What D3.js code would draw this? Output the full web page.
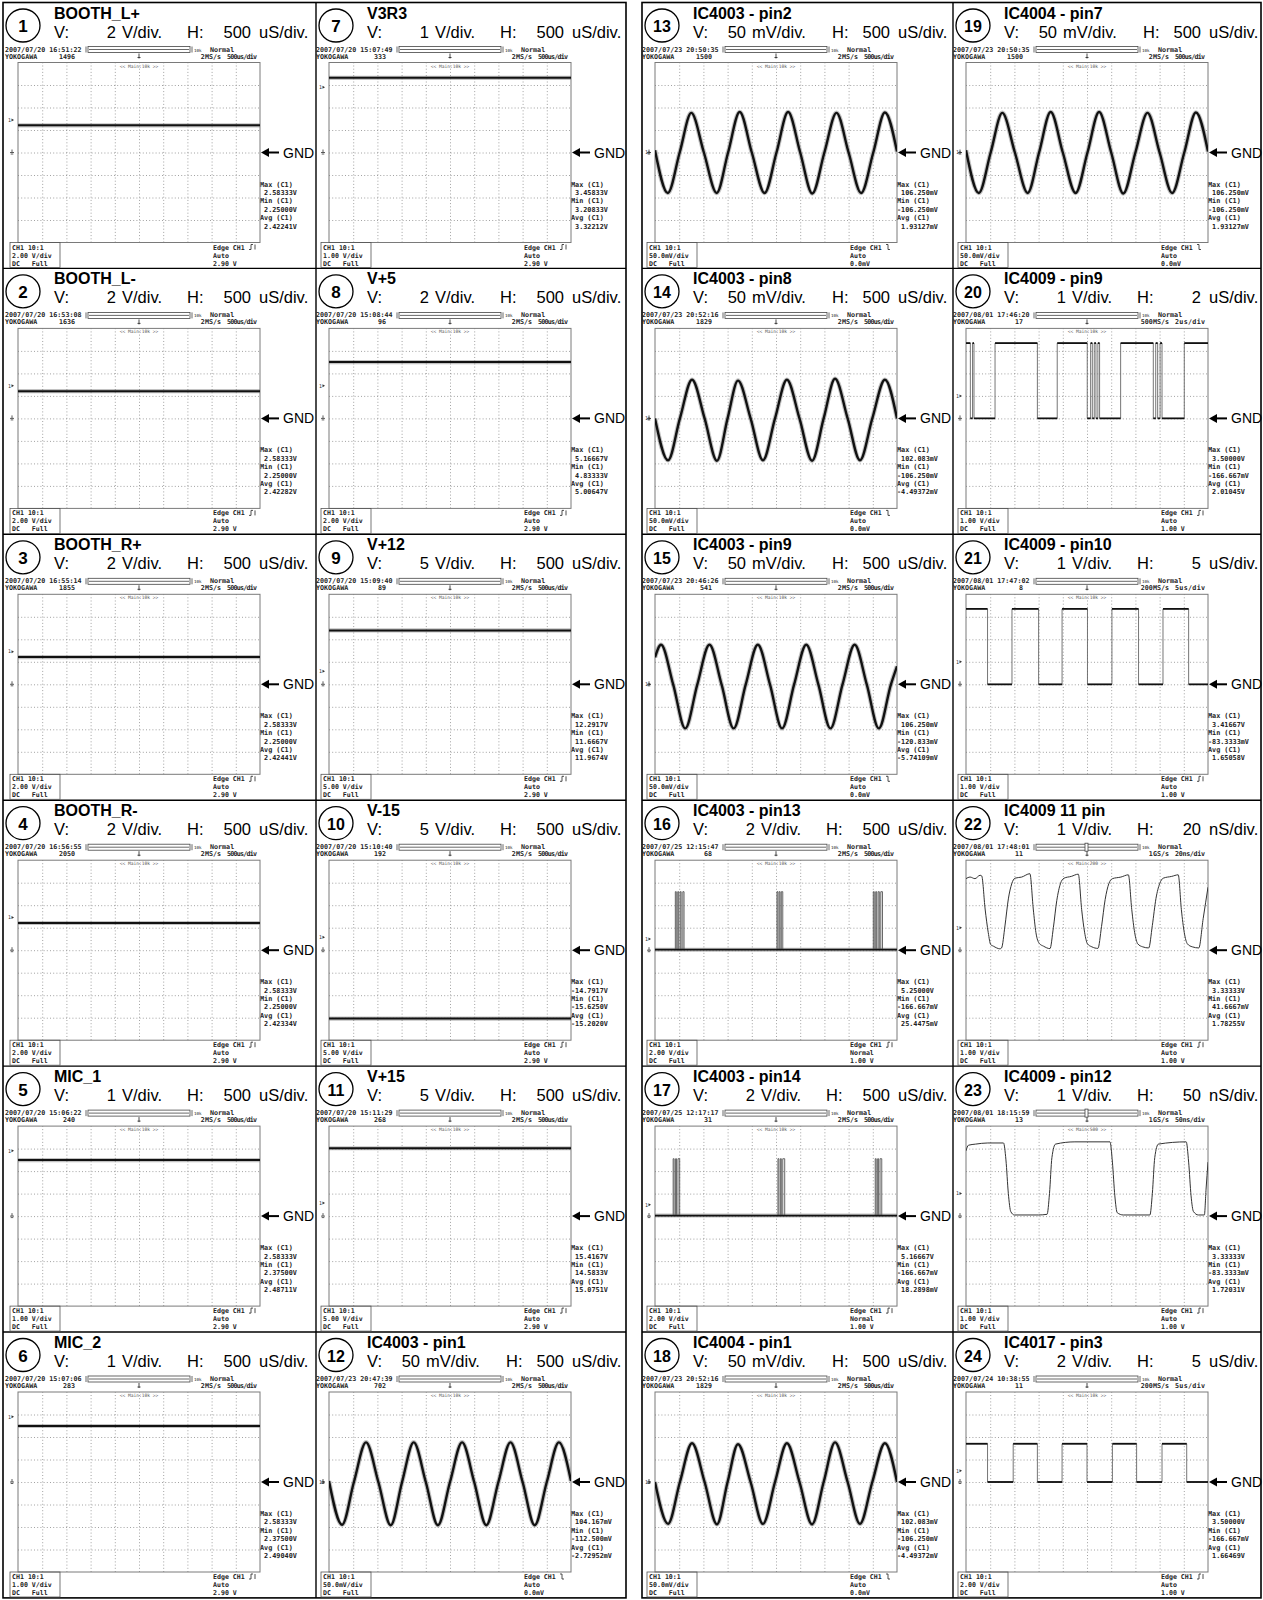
<!DOCTYPE html>
<html><head><meta charset="utf-8">
<script src="https://cdn.jsdelivr.net/npm/d3@7"></script>
<style>body{margin:0;background:#fff}svg{display:block}text{white-space:pre}</style>
</head><body><svg id="c" width="1263" height="1600"></svg>
<script>
// ---------- DATA ----------
const panelIds = [1,2,3,4,5,6,7,8,9,10,11,12,13,14,15,16,17,18,19,20,21,22,23,24];
const titles = ["BOOTH_L+","BOOTH_L-","BOOTH_R+","BOOTH_R-","MIC_1","MIC_2","V3R3","V+5","V+12","V-15","V+15","IC4003 - pin1","IC4003 - pin2","IC4003 - pin8","IC4003 - pin9","IC4003 - pin13","IC4003 - pin14","IC4004 - pin1","IC4004 - pin7","IC4009 - pin9","IC4009 - pin10","IC4009 11 pin","IC4009 - pin12","IC4017 - pin3"];
const vDivNum = [2,2,2,2,1,1,1,2,5,5,5,50,50,50,50,2,2,50,50,1,1,1,1,2];
const vDivUnit = ["V","V","V","V","V","V","V","V","V","V","V","mV","mV","mV","mV","V","V","mV","mV","V","V","V","V","V"];
const hDivNum = [500,500,500,500,500,500,500,500,500,500,500,500,500,500,500,500,500,500,500,2,5,20,50,5];
const hDivUnit = ["uS","uS","uS","uS","uS","uS","uS","uS","uS","uS","uS","uS","uS","uS","uS","uS","uS","uS","uS","uS","uS","nS","nS","uS"];
const scopeDates = ["2007/07/20 16:51:22","2007/07/20 16:53:08","2007/07/20 16:55:14","2007/07/20 16:56:55","2007/07/20 15:06:22","2007/07/20 15:07:06","2007/07/20 15:07:49","2007/07/20 15:08:44","2007/07/20 15:09:40","2007/07/20 15:10:40","2007/07/20 15:11:29","2007/07/23 20:47:39","2007/07/23 20:50:35","2007/07/23 20:52:16","2007/07/23 20:46:26","2007/07/25 12:15:47","2007/07/25 12:17:17","2007/07/23 20:52:16","2007/07/23 20:50:35","2007/08/01 17:46:20","2007/08/01 17:47:02","2007/08/01 17:48:01","2007/08/01 18:15:59","2007/07/24 10:38:55"];
const scopeCounts = [1496,1636,1855,2050,240,283,333,96,89,192,268,702,1500,1829,541,68,31,1829,1500,17,8,11,13,11];
const sampleRates = ["2MS/s","2MS/s","2MS/s","2MS/s","2MS/s","2MS/s","2MS/s","2MS/s","2MS/s","2MS/s","2MS/s","2MS/s","2MS/s","2MS/s","2MS/s","2MS/s","2MS/s","2MS/s","2MS/s","500MS/s","200MS/s","1GS/s","1GS/s","200MS/s"];
const timebases = ["500us/div","500us/div","500us/div","500us/div","500us/div","500us/div","500us/div","500us/div","500us/div","500us/div","500us/div","500us/div","500us/div","500us/div","500us/div","500us/div","500us/div","500us/div","500us/div","2us/div","5us/div","20ns/div","50ns/div","5us/div"];
const mainRecords = ["10k","10k","10k","10k","10k","10k","10k","10k","10k","10k","10k","10k","10k","10k","10k","10k","10k","10k","10k","10k","10k","200","500","10k"];
const chVdivText = ["2.00 V/div","2.00 V/div","2.00 V/div","2.00 V/div","1.00 V/div","1.00 V/div","1.00 V/div","2.00 V/div","5.00 V/div","5.00 V/div","5.00 V/div","50.0mV/div","50.0mV/div","50.0mV/div","50.0mV/div","2.00 V/div","2.00 V/div","50.0mV/div","50.0mV/div","1.00 V/div","1.00 V/div","1.00 V/div","1.00 V/div","2.00 V/div"];
const trigModes = ["Auto","Auto","Auto","Auto","Auto","Auto","Auto","Auto","Auto","Auto","Auto","Auto","Auto","Auto","Auto","Normal","Normal","Auto","Auto","Auto","Auto","Auto","Auto","Auto"];
const trigLevelText = ["2.90 V","2.90 V","2.90 V","2.90 V","2.90 V","2.90 V","2.90 V","2.90 V","2.90 V","2.90 V","2.90 V","0.0mV","0.0mV","0.0mV","0.0mV","1.00 V","1.00 V","0.0mV","0.0mV","1.00 V","1.00 V","1.00 V","1.00 V","1.00 V"];
const trigLevelValue = [2.9,2.9,2.9,2.9,2.9,2.9,2.9,2.9,2.9,2.9,2.9,0,0,0,0,1,1,0,0,1,1,1,1,1];
const trigSlope = ["r","r","r","r","r","r","r","r","r","r","r","f","f","f","f","r","r","f","f","r","r","r","r","r"];
const measMax = ["2.58333V","2.58333V","2.58333V","2.58333V","2.58333V","2.58333V","3.45833V","5.16667V","12.2917V","-14.7917V","15.4167V","104.167mV","106.250mV","102.083mV","106.250mV","5.25000V","5.16667V","102.083mV","106.250mV","3.50000V","3.41667V","3.33333V","3.33333V","3.50000V"];
const measMin = ["2.25000V","2.25000V","2.25000V","2.25000V","2.37500V","2.37500V","3.20833V","4.83333V","11.6667V","-15.6250V","14.5833V","-112.500mV","-106.250mV","-106.250mV","-120.833mV","-166.667mV","-166.667mV","-106.250mV","-106.250mV","-166.667mV","-83.3333mV","41.6667mV","-83.3333mV","-166.667mV"];
const measAvg = ["2.42241V","2.42282V","2.42441V","2.42334V","2.48711V","2.49040V","3.32212V","5.00647V","11.9674V","-15.2020V","15.0751V","-2.72952mV","1.93127mV","-4.49372mV","-5.74109mV","25.4475mV","18.2898mV","-4.49372mV","1.93127mV","2.01045V","1.65058V","1.78255V","1.72031V","1.66469V"];

// DC levels (V) of panels 1..11
const dcLevels = [2.42,2.42,2.42,2.42,2.49,2.49,3.32,5.01,11.97,-15.20,15.08];

// sine captures: [time div, mV]
const sinePin1 = [[0,2],[0.54,-95],[1.03,0],[1.53,88],[2.04,0],[2.55,-96],[3.02,0],[3.5,88],[4.0,0],[4.5,-96],[5.0,0],[5.5,88],[6.0,0],[6.5,-96],[7.0,0],[7.5,88],[8.0,0],[8.5,-96],[9.0,0],[9.5,88],[10,2]];
const sinePin2 = [[0,5],[0.53,-90],[1.02,0],[1.5,88],[2.02,0],[2.55,-90],[3.02,0],[3.5,90],[4.0,0],[4.53,-90],[5.02,0],[5.5,90],[6.0,0],[6.5,-91],[7.0,0],[7.5,88],[8.0,0],[8.52,-90],[9.02,0],[9.5,89],[10,2]];
const sinePin8 = [[0,0],[0.54,-93],[1.03,0],[1.53,86],[2.05,0],[2.56,-94],[3.0,0],[3.43,84],[3.95,0],[4.46,-93],[4.96,0],[5.45,86],[5.97,0],[6.49,-94],[6.97,0],[7.44,88],[7.96,0],[8.47,-93],[8.98,0],[9.5,86],[10,0]];
const sinePin9 = [[0,60],[0.25,88],[0.75,0],[1.25,-98],[1.75,0],[2.25,88],[2.75,0],[3.25,-98],[3.75,0],[4.25,88],[4.75,0],[5.25,-98],[5.75,0],[6.25,88],[6.75,0],[7.25,-98],[7.75,0],[8.25,88],[8.75,0],[9.25,-98],[9.75,0],[10,40]];

// burst pulses [start div, end div]
const burstPin13 = [[0.84,0.88],[0.94,0.98],[1.04,1.08],[1.15,1.2],[5.04,5.08],[5.13,5.17],[5.22,5.28],[9.02,9.06],[9.12,9.16],[9.22,9.27],[9.33,9.4]];
const burstPin14 = [[0.75,0.79],[0.85,0.89],[0.95,1.02],[5.08,5.12],[5.18,5.22],[5.28,5.36],[9.1,9.14],[9.2,9.24],[9.3,9.37]];
const burstHigh = [5.2, 5.1];

// digital edges: [time div, level V]
const edgesPin9 = [[0,3.35],[0.18,0],[0.27,3.35],[0.33,0],[1.2,3.35],[2.95,0],[3.77,3.35],[5.01,0],[5.15,3.35],[5.22,0],[5.3,3.35],[5.37,0],[5.45,3.35],[5.52,0],[6.39,3.35],[7.74,0],[7.84,3.35],[7.92,0],[8.02,3.35],[8.1,0],[9.02,3.35],[10,3.35]];
const edgesPin10 = [[0,3.35],[0.89,0],[1.9,3.35],[3.0,0],[3.97,3.35],[5.02,0],[6.03,3.35],[7.13,0],[8.14,3.35],[9.2,0],[10,0]];
const edges4017 = [[0,3.4],[0.89,0],[1.95,3.4],[2.95,0],[3.97,3.4],[5.0,0],[6.05,3.4],[7.05,0],[8.1,3.4],[9.12,0],[10,0]];
const wave11pin = [[0,3.18],[0.17,3.25],[0.37,3.18],[0.58,3.33],[0.65,3.3],[0.79,1.83],[0.92,0.78],[1.02,0.25],[1.13,0.18],[1.27,0.1],[1.4,0.06],[1.47,0.1],[1.61,1.08],[1.75,2.28],[1.89,2.95],[2.02,3.2],[2.3,3.25],[2.64,3.4],[2.78,1.83],[2.89,0.78],[3.03,0.3],[3.2,0.18],[3.47,0.07],[3.61,1.0],[3.75,2.2],[3.9,2.95],[4.05,3.2],[4.35,3.28],[4.64,3.38],[4.78,1.8],[4.9,0.8],[5.02,0.28],[5.2,0.15],[5.45,0.08],[5.6,1.05],[5.75,2.25],[5.9,2.95],[6.05,3.18],[6.4,3.25],[6.71,3.35],[6.85,1.8],[6.97,0.78],[7.1,0.28],[7.3,0.15],[7.55,0.1],[7.7,1.1],[7.85,2.3],[8.0,2.95],[8.15,3.2],[8.5,3.28],[8.77,3.35],[8.9,1.8],[9.02,0.78],[9.15,0.28],[9.35,0.15],[9.62,0.1],[9.8,1.4],[10,2.8]];
const wavePin12 = [[0,2.9],[0.1,3.15],[0.4,3.2],[0.9,3.25],[1.55,3.25],[1.65,2.5],[1.75,1.0],[1.85,0.2],[2.0,0.05],[3.0,0.05],[3.35,0.08],[3.45,1.0],[3.55,2.6],[3.7,3.2],[4.5,3.3],[5.95,3.3],[6.05,2.4],[6.15,0.9],[6.25,0.15],[6.5,0.05],[7.6,0.05],[7.7,1.0],[7.8,2.6],[7.95,3.2],[9.1,3.3],[9.2,2.4],[9.3,0.9],[9.4,0.2],[9.6,0.05],[9.85,0.05],[9.92,1.2],[10,2.4]];

// ---------- LAYOUT ----------
const SANS = "'Liberation Sans', Arial, sans-serif";
const MONO = "'DejaVu Sans Mono', 'Liberation Mono', monospace";
const colX = [3, 316, 642, 953];
const colR = [316, 626, 953, 1261];
const gridOff = [15, 13, 13, 13];
const rowH = 265.9, top0 = 2.5;
const GW = 242, GH = 180;
const svg = d3.select("#c");

[[0,1],[2,3]].forEach(([a,b]) => {
  svg.append("rect").attr("x", colX[a]).attr("y", top0).attr("width", colR[b]-colX[a]).attr("height", rowH*6)
    .attr("fill","none").attr("stroke","#000").attr("stroke-width",1.6);
  svg.append("line").attr("x1", colR[a]).attr("x2", colR[a]).attr("y1", top0).attr("y2", top0+rowH*6)
    .attr("stroke","#000").attr("stroke-width",1.4);
  for (let r=1;r<6;r++) svg.append("line").attr("x1", colX[a]).attr("x2", colR[b]).attr("y1", top0+r*rowH).attr("y2", top0+r*rowH)
    .attr("stroke","#000").attr("stroke-width",1.4);
});

const stepLine = (x,y) => d3.line().x(d=>x(d[0])).y(d=>y(d[1])).curve(d3.curveStepAfter);
const smoothLine = (x,y) => d3.line().x(d=>x(d[0])).y(d=>y(d[1])).curve(d3.curveMonotoneX);
const straight = (x,y) => d3.line().x(d=>x(d[0])).y(d=>y(d[1]));

panelIds.forEach((id, k) => {
  const col = Math.floor(k/6), row = k%6;
  const x0 = colX[col], y0 = top0 + row*rowH;
  const g = svg.append("g");
  g.append("ellipse").attr("cx", x0+20).attr("cy", y0+23).attr("rx", 17).attr("ry", 16.5)
    .attr("fill","none").attr("stroke","#000").attr("stroke-width",1.3);
  g.append("text").attr("x", x0+20).attr("y", y0+29.5).attr("text-anchor","middle")
    .attr("font-family", SANS).attr("font-weight","bold").attr("font-size", id>9?16:17).text(id);
  g.append("text").attr("x", x0+51).attr("y", y0+16).attr("font-family", SANS).attr("font-weight","bold")
    .attr("font-size",16).text(titles[k]);
  const vt = g.append("g").attr("font-family", SANS).attr("font-size",16.5);
  const mv = vDivUnit[k]==="mV";
  vt.append("text").attr("x", x0+51).attr("y", y0+35).text("V:");
  vt.append("text").attr("x", x0+(mv?104:113)).attr("y", y0+35).attr("text-anchor","end").text(vDivNum[k]);
  vt.append("text").attr("x", x0+(mv?110:119)).attr("y", y0+35).text(vDivUnit[k]+"/div.");
  vt.append("text").attr("x", x0+(mv?190:184)).attr("y", y0+35).text("H:");
  vt.append("text").attr("x", x0+248).attr("y", y0+35).attr("text-anchor","end").text(hDivNum[k]);
  vt.append("text").attr("x", x0+256).attr("y", y0+35).text(hDivUnit[k]+"/div.");

  const gx = x0 + gridOff[col], gy = y0 + 60;
  const vd = vDivNum[k];
  const x = d3.scaleLinear().domain([0,10]).range([gx, gx+GW]);
  const y = d3.scaleLinear().domain([-4*vd, 4*vd]).range([gy+GH, gy]);
  const st = g.append("g").attr("font-family", MONO).attr("font-weight","bold").attr("fill","#222");
  st.append("text").attr("x", gx-13).attr("y", gy-11).attr("font-size",6.7).text(scopeDates[k]);
  st.append("text").attr("x", gx-13).attr("y", gy-4).attr("font-size",6.7).text("YOKOGAWA");
  st.append("text").attr("x", gx+57).attr("y", gy-4).attr("font-size",6.7).attr("text-anchor","end").text(scopeCounts[k]);
  st.append("rect").attr("x", gx+70).attr("y", gy-16).attr("width",102).attr("height",6).attr("fill","none").attr("stroke","#444").attr("stroke-width",0.8);
  st.append("line").attr("x1", gx+71).attr("x2", gx+171).attr("y1", gy-13).attr("y2", gy-13).attr("stroke","#444").attr("stroke-width",0.8);
  st.append("path").attr("d", `M${gx+68},${gy-16}v6M${gx+174},${gy-16}v6`).attr("stroke","#444").attr("stroke-width",0.8);
  st.append("text").attr("x", gx+176).attr("y", gy-11).attr("font-size",4.2).attr("font-weight","normal").text("10k");
  if (mainRecords[k] !== "10k") st.append("rect").attr("x", gx+119).attr("y", gy-17).attr("width",3).attr("height",8).attr("fill","#fff").attr("stroke","#444").attr("stroke-width",0.8);
  st.append("path").attr("d", `M${gx+121},${gy-9}v5M${gx+119.5},${gy-5}h3`).attr("stroke","#333").attr("stroke-width",0.9).attr("fill","none");
  st.append("text").attr("x", gx+192).attr("y", gy-11).attr("font-size",6.7).text("Normal");
  st.append("text").attr("x", gx+203).attr("y", gy-4).attr("font-size",6.7).attr("text-anchor","end").text(sampleRates[k]);
  st.append("text").attr("x", gx+209).attr("y", gy-4).attr("font-size",6.7).attr("textLength",30).text(timebases[k]);
  st.append("text").attr("x", gx+GW/2).attr("y", gy+5).attr("font-size",4.6).attr("font-weight","normal").attr("text-anchor","middle").attr("fill","#555")
    .text("<< Main:"+mainRecords[k]+" >>");

  const xAxis = d3.axisBottom(x).tickValues(d3.range(1,10)).tickSize(-GH).tickFormat("");
  const yAxis = d3.axisLeft(y).tickValues(d3.range(-3,4).map(v=>v*vd)).tickSize(-GW).tickFormat("");
  const gxA = g.append("g").attr("transform", `translate(0,${gy+GH})`).call(xAxis);
  const gyA = g.append("g").attr("transform", `translate(${gx},0)`).call(yAxis);
  [gxA, gyA].forEach(a => {
    a.select(".domain").remove();
    a.selectAll("line").attr("stroke","#8a8a8a").attr("stroke-width",0.8).attr("stroke-dasharray","1,2.2");
  });
  g.append("rect").attr("x", gx).attr("y", gy).attr("width", GW).attr("height", GH)
    .attr("fill","none").attr("stroke","#7a7a7a").attr("stroke-width",1);

  const yT = y(trigLevelValue[k]), y0v = y(0);
  g.append("text").attr("x", gx-10).attr("y", yT+1.8).attr("font-family", MONO).attr("font-size",5).attr("fill","#333").text("1");
  g.append("path").attr("d", `M${gx-6.5},${yT-1.5}l2.5,1.5l-2.5,1.5z`).attr("fill","#333");
  g.append("path").attr("d", `M${gx-6},${y0v-3}v3M${gx-8},${y0v}h4M${gx-7.3},${y0v+1.5}h2.6`).attr("stroke","#333").attr("stroke-width",0.8).attr("fill","none");

  const clipId = "clip"+id;
  g.append("clipPath").attr("id", clipId).append("rect").attr("x", gx).attr("y", gy).attr("width", GW).attr("height", GH);
  const tg = g.append("g").attr("clip-path", `url(#${clipId})`);
  const drawNoisy = (data, gen, w) => {
    tg.append("path").attr("d", gen(data)).attr("fill","none").attr("stroke","#777").attr("stroke-width", w+2.2).attr("stroke-opacity",0.45).attr("stroke-linejoin","round");
    tg.append("path").attr("d", gen(data)).attr("fill","none").attr("stroke","#111").attr("stroke-width", w).attr("stroke-linejoin","round");
  };
  if (id <= 11) {
    const lv = dcLevels[k];
    drawNoisy([[0,lv],[10,lv]], straight(x,y), 2);
  } else if ([12,13,14,15,18,19].includes(id)) {
    const src = {12:sinePin1, 13:sinePin2, 19:sinePin2, 14:sinePin8, 18:sinePin8, 15:sinePin9}[id];
    drawNoisy(src, smoothLine(x,y), 2.4);
  } else if (id===16 || id===17) {
    const pulses = id===16 ? burstPin13 : burstPin14;
    const hi = burstHigh[id-16];
    pulses.forEach(p => {
      tg.append("path").attr("d", straight(x,y)([[p[0],0],[p[0],hi],[p[1],hi],[p[1],0]]))
        .attr("fill","none").attr("stroke","#555").attr("stroke-width",0.9);
    });
    drawNoisy([[0,0.05],[10,0.05]], straight(x,y), 1.8);
  } else if (id===20 || id===21 || id===24) {
    const src = id===20 ? edgesPin9 : id===21 ? edgesPin10 : edges4017;
    tg.append("path").attr("d", stepLine(x,y)(src)).attr("fill","none").attr("stroke","#666").attr("stroke-width",0.9);
    for (let i=0;i<src.length-1;i++)
      tg.append("path").attr("d", straight(x,y)([[src[i][0],src[i][1]],[src[i+1][0],src[i][1]]])).attr("stroke","#111").attr("stroke-width",1.8);
  } else {
    const src = id===22 ? wave11pin : wavePin12;
    tg.append("path").attr("d", smoothLine(x,y)(src)).attr("fill","none").attr("stroke","#333").attr("stroke-width",1);
  }

  const ax = gx+GW;
  g.append("path").attr("d", `M${ax+1},${y0v}l8,-4.5v9z`).attr("fill","#000");
  g.append("line").attr("x1", ax+8).attr("x2", ax+19).attr("y1", y0v).attr("y2", y0v).attr("stroke","#000").attr("stroke-width",2);
  g.append("text").attr("x", ax+23).attr("y", y0v+5).attr("font-family", SANS).attr("font-size",14).text("GND");

  const ml = ["Max (C1)", (measMax[k][0]==="-"?"":" ")+measMax[k], "Min (C1)", (measMin[k][0]==="-"?"":" ")+measMin[k], "Avg (C1)", (measAvg[k][0]==="-"?"":" ")+measAvg[k]];
  ml.forEach((t,i) => st.append("text").attr("x", gx+GW).attr("y", gy+124+i*8.4).attr("font-size",6.8).text(t));

  g.append("rect").attr("x", gx-8).attr("y", gy+GH).attr("width",50).attr("height",25).attr("fill","none").attr("stroke","#555").attr("stroke-width",0.8);
  ["CH1 10:1", chVdivText[k], "DC   Full"].forEach((t,i) => st.append("text").attr("x", gx-6).attr("y", gy+GH+7+i*8).attr("font-size",6.6).text(t));
  ["Edge CH1", trigModes[k], trigLevelText[k]].forEach((t,i) => st.append("text").attr("x", gx+195).attr("y", gy+GH+7+i*8).attr("font-size",6.6).text(t));
  const ex = gx+231, ey = gy+GH+7;
  g.append("path").attr("d", trigSlope[k]==="r" ? `M${ex},${ey}h2v-5h2M${ex+6},${ey}v-5` : `M${ex},${ey-5}h2v5h2`).attr("fill","none").attr("stroke","#222").attr("stroke-width",0.8);
});
</script></body></html>
